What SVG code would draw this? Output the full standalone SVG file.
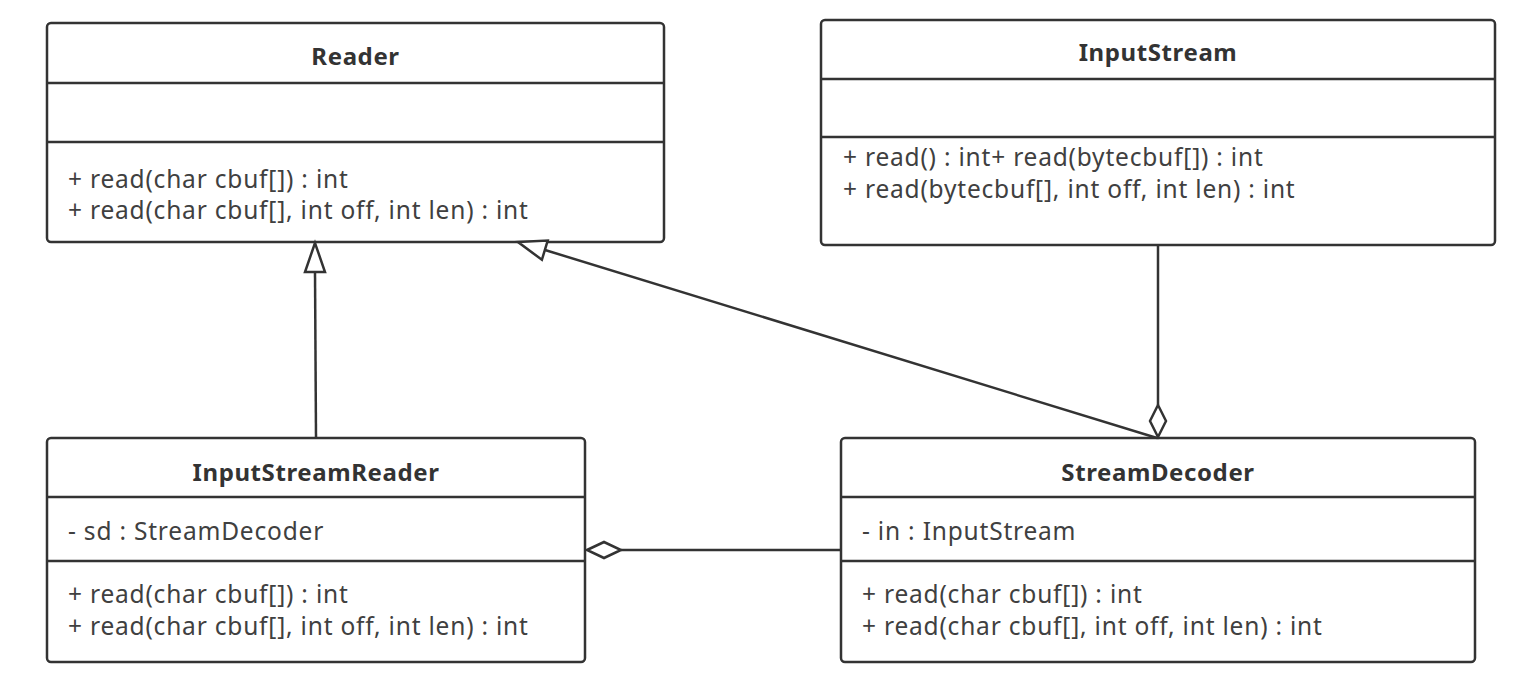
<svg xmlns="http://www.w3.org/2000/svg" width="1521" height="686" viewBox="0 0 1521 686">
<defs>
<style>
.box{fill:#fff;stroke:#333;stroke-width:2.5}
.sep{stroke:#333;stroke-width:2.5}
.title{font-family:"Noto Sans","Liberation Sans",sans-serif;font-size:24px;font-weight:bold;fill:#333;text-anchor:middle;letter-spacing:0.6px}
.mem{font-family:"Noto Sans","Liberation Sans",sans-serif;font-size:24.5px;fill:#404040;letter-spacing:0.8px}
.edge{fill:none;stroke:#333;stroke-width:2.5}
.hollow{fill:#fff;stroke:#333;stroke-width:2.5;stroke-linejoin:miter}
</style>
</defs>
<rect width="1521" height="686" fill="#fff"/>
<g id="Reader">
<rect class="box" x="47" y="23" width="617" height="219" rx="4"/>
<line class="sep" x1="47" y1="83" x2="664" y2="83"/>
<line class="sep" x1="47" y1="142" x2="664" y2="142"/>
<text class="title" x="355.5" y="65">Reader</text>
<text class="mem" x="68" y="188">+ read(char cbuf[]) : int</text>
<text class="mem" x="68" y="219">+ read(char cbuf[], int off, int len) : int</text>
</g>
<g id="InputStream">
<rect class="box" x="821" y="20" width="674" height="225" rx="4"/>
<line class="sep" x1="821" y1="79" x2="1495" y2="79"/>
<line class="sep" x1="821" y1="137" x2="1495" y2="137"/>
<text class="title" x="1158" y="61">InputStream</text>
<text class="mem" x="843" y="166">+ read() : int+ read(bytecbuf[]) : int</text>
<text class="mem" x="843" y="198">+ read(bytecbuf[], int off, int len) : int</text>
</g>
<g id="InputStreamReader">
<rect class="box" x="47" y="438" width="538" height="224" rx="4"/>
<line class="sep" x1="47" y1="497" x2="585" y2="497"/>
<line class="sep" x1="47" y1="561" x2="585" y2="561"/>
<text class="title" x="316" y="481">InputStreamReader</text>
<text class="mem" x="68" y="540">- sd : StreamDecoder</text>
<text class="mem" x="68" y="603">+ read(char cbuf[]) : int</text>
<text class="mem" x="68" y="635">+ read(char cbuf[], int off, int len) : int</text>
</g>
<g id="StreamDecoder">
<rect class="box" x="841" y="438" width="634" height="224" rx="4"/>
<line class="sep" x1="841" y1="497" x2="1475" y2="497"/>
<line class="sep" x1="841" y1="561" x2="1475" y2="561"/>
<text class="title" x="1158" y="481">StreamDecoder</text>
<text class="mem" x="862" y="540">- in : InputStream</text>
<text class="mem" x="862" y="603">+ read(char cbuf[]) : int</text>
<text class="mem" x="862" y="635">+ read(char cbuf[], int off, int len) : int</text>
</g>
<g id="connectors">
<line class="edge" x1="316" y1="438" x2="315" y2="272"/>
<polygon class="hollow" points="315,243 305,272 325,272"/>
<line class="edge" x1="1157" y1="438" x2="545" y2="250"/>
<polygon class="hollow" points="518,242 547.7,240.6 541.9,259.8"/>
<line class="edge" x1="1158" y1="245" x2="1158" y2="405"/>
<polygon class="hollow" points="1158,405 1166,421 1158,437 1150,421"/>
<line class="edge" x1="841" y1="550" x2="621" y2="550"/>
<polygon class="hollow" points="587,550 604,542 621,550 604,558"/>
</g>
</svg>
